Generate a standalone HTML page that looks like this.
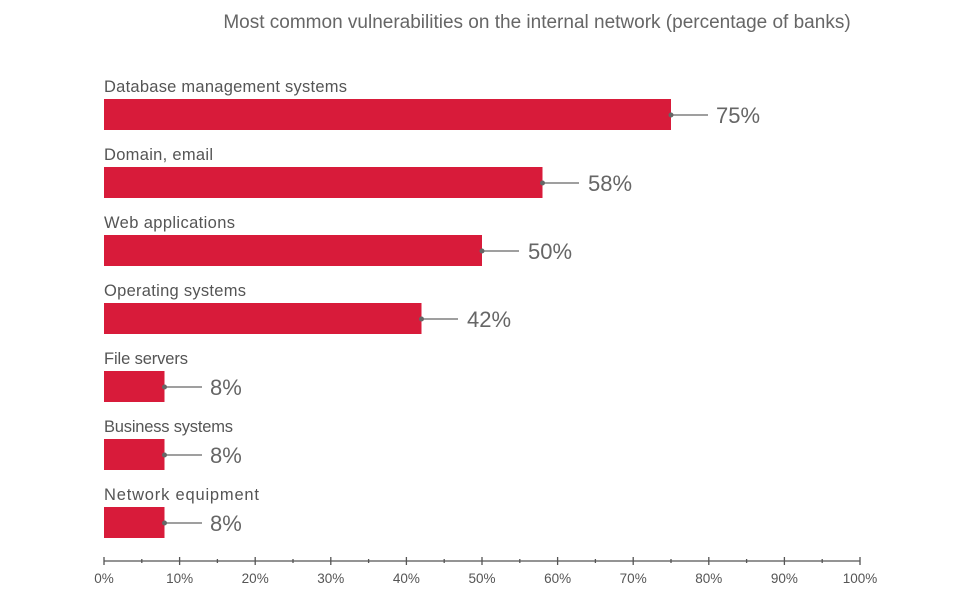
<!DOCTYPE html>
<html><head><style>
body{margin:0;background:#fff;}
svg text{font-family:"Liberation Sans",sans-serif;}
</style></head><body>
<svg width="961" height="603" xmlns="http://www.w3.org/2000/svg">
<text x="537" y="28" text-anchor="middle" font-size="19" fill="#666">Most common vulnerabilities on the internal network (percentage of banks)</text>
<g font-size="16.5" fill="#555" textLength="0">
<text x="104" y="92" textLength="243">Database management systems</text>
<text x="104" y="160" textLength="109">Domain, email</text>
<text x="104" y="228" textLength="131">Web applications</text>
<text x="104" y="296" textLength="142">Operating systems</text>
<text x="104" y="364" textLength="84">File servers</text>
<text x="104" y="432" textLength="129">Business systems</text>
<text x="104" y="500" textLength="155">Network equipment</text>
</g>
<g fill="#d81b3a">
<rect x="104" y="99" width="567" height="31"/>
<rect x="104" y="167" width="438.5" height="31"/>
<rect x="104" y="235" width="378" height="31"/>
<rect x="104" y="303" width="317.5" height="31"/>
<rect x="104" y="371" width="60.5" height="31"/>
<rect x="104" y="439" width="60.5" height="31"/>
<rect x="104" y="507" width="60.5" height="31"/>
</g>
<g stroke="#666" stroke-width="1.3">
<line x1="671" y1="115" x2="708" y2="115"/>
<line x1="542.5" y1="183" x2="579" y2="183"/>
<line x1="482" y1="251" x2="519" y2="251"/>
<line x1="421.5" y1="319" x2="458" y2="319"/>
<line x1="164.5" y1="387" x2="202" y2="387"/>
<line x1="164.5" y1="455" x2="202" y2="455"/>
<line x1="164.5" y1="523" x2="202" y2="523"/>
</g>
<g fill="#666">
<circle cx="671" cy="115" r="2.5"/><circle cx="542.5" cy="183" r="2.5"/><circle cx="482" cy="251" r="2.5"/><circle cx="421.5" cy="319" r="2.5"/><circle cx="164.5" cy="387" r="2.5"/><circle cx="164.5" cy="455" r="2.5"/><circle cx="164.5" cy="523" r="2.5"/>
</g>
<g font-size="22" fill="#666">
<text x="716" y="123">75%</text>
<text x="588" y="191">58%</text>
<text x="528" y="259">50%</text>
<text x="467" y="327">42%</text>
<text x="210" y="395">8%</text>
<text x="210" y="463">8%</text>
<text x="210" y="531">8%</text>
</g>
<g stroke="#555" stroke-width="1.3">
<line x1="104" y1="561" x2="860" y2="561"/>
<line x1="104" y1="557" x2="104" y2="565"/><line x1="179.6" y1="557" x2="179.6" y2="565"/><line x1="255.2" y1="557" x2="255.2" y2="565"/><line x1="330.8" y1="557" x2="330.8" y2="565"/><line x1="406.4" y1="557" x2="406.4" y2="565"/><line x1="482" y1="557" x2="482" y2="565"/><line x1="557.6" y1="557" x2="557.6" y2="565"/><line x1="633.2" y1="557" x2="633.2" y2="565"/><line x1="708.8" y1="557" x2="708.8" y2="565"/><line x1="784.4" y1="557" x2="784.4" y2="565"/><line x1="860" y1="557" x2="860" y2="565"/>
<line x1="141.8" y1="559" x2="141.8" y2="563"/><line x1="217.4" y1="559" x2="217.4" y2="563"/><line x1="293" y1="559" x2="293" y2="563"/><line x1="368.6" y1="559" x2="368.6" y2="563"/><line x1="444.2" y1="559" x2="444.2" y2="563"/><line x1="519.8" y1="559" x2="519.8" y2="563"/><line x1="595.4" y1="559" x2="595.4" y2="563"/><line x1="671" y1="559" x2="671" y2="563"/><line x1="746.6" y1="559" x2="746.6" y2="563"/><line x1="822.2" y1="559" x2="822.2" y2="563"/>
</g>
<g font-size="13.5" fill="#555" text-anchor="middle">
<text x="104" y="583">0%</text><text x="179.6" y="583">10%</text><text x="255.2" y="583">20%</text><text x="330.8" y="583">30%</text><text x="406.4" y="583">40%</text><text x="482" y="583">50%</text><text x="557.6" y="583">60%</text><text x="633.2" y="583">70%</text><text x="708.8" y="583">80%</text><text x="784.4" y="583">90%</text><text x="860" y="583">100%</text>
</g>
</svg>
</body></html>
